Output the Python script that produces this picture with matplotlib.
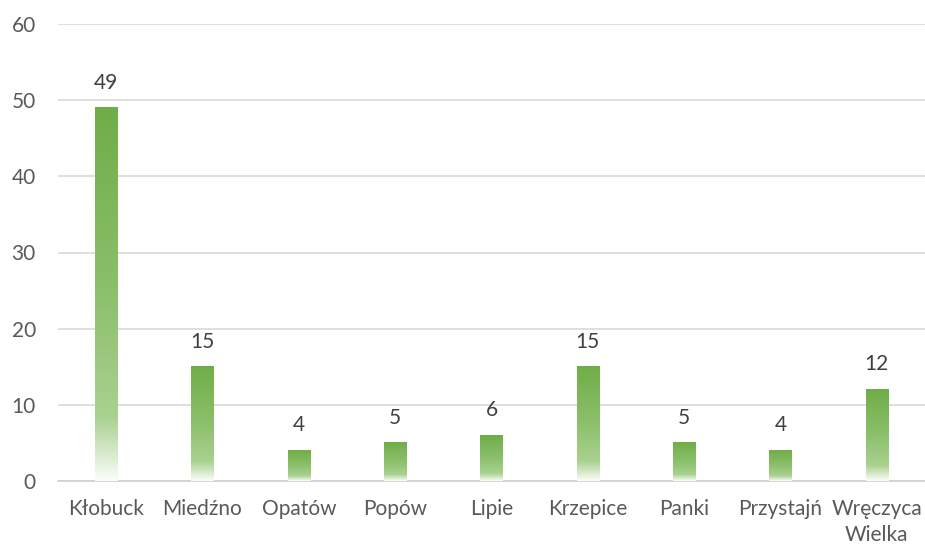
import numpy as np
import matplotlib.pyplot as plt
from matplotlib.colors import LinearSegmentedColormap

# data
places = ['Kłobuck', 'Miedźno', 'Opatów', 'Popów', 'Lipie', 'Krzepice',
          'Panki', 'Przystajń', 'Wręczyca\nWielka']
counts = [49, 15, 4, 5, 6, 15, 5, 4, 12]
yticks = [0, 10, 20, 30, 40, 50, 60]

plt.rcParams['font.family'] = ['Lato', 'DejaVu Sans']

fig = plt.figure(figsize=(9.25, 5.5), dpi=100)
ax = fig.add_axes([58/925, 1-481/550, 1-58/925, (481-24)/550])

cmap = LinearSegmentedColormap.from_list(
    'grad', [(0.0, '#fbfdf9'), (0.17, '#a9d190'), (0.5, '#8cc06c'), (1.0, '#70ad47')])
grad = np.linspace(0, 1, 256).reshape(-1, 1)

x = np.arange(len(places))
width = 0.23
bars = ax.bar(x, counts, width, color='none', zorder=3)
for b in bars:
    x0, y0 = b.get_x(), b.get_y()
    w, h = b.get_width(), b.get_height()
    ax.imshow(grad, cmap=cmap, origin='lower', aspect='auto',
              extent=(x0, x0 + w, y0, y0 + h), zorder=3)
    ax.text(x0 + w/2, h + 2.0, str(int(h)), ha='center', va='bottom',
            fontsize=15, color='#404040')

ax.set_xlim(-0.5, len(places) - 0.5)
ax.set_ylim(0, 60)
ax.set_yticks(yticks)
ax.set_xticks(x)
ax.set_xticklabels(places, fontsize=15, color='#595959', linespacing=1.35)
ax.tick_params(axis='y', labelsize=15, labelcolor='#595959', length=0, pad=16)
ax.tick_params(axis='x', length=0, pad=13)
ax.grid(axis='y', color='#d9d9d9', linewidth=1.2, zorder=0)
ax.set_axisbelow(True)
for s in ['top', 'right', 'left']:
    ax.spines[s].set_visible(False)
ax.spines['bottom'].set_color('#d0d0d0')
ax.spines['bottom'].set_linewidth(1.2)

plt.savefig('out.png', dpi=100)
